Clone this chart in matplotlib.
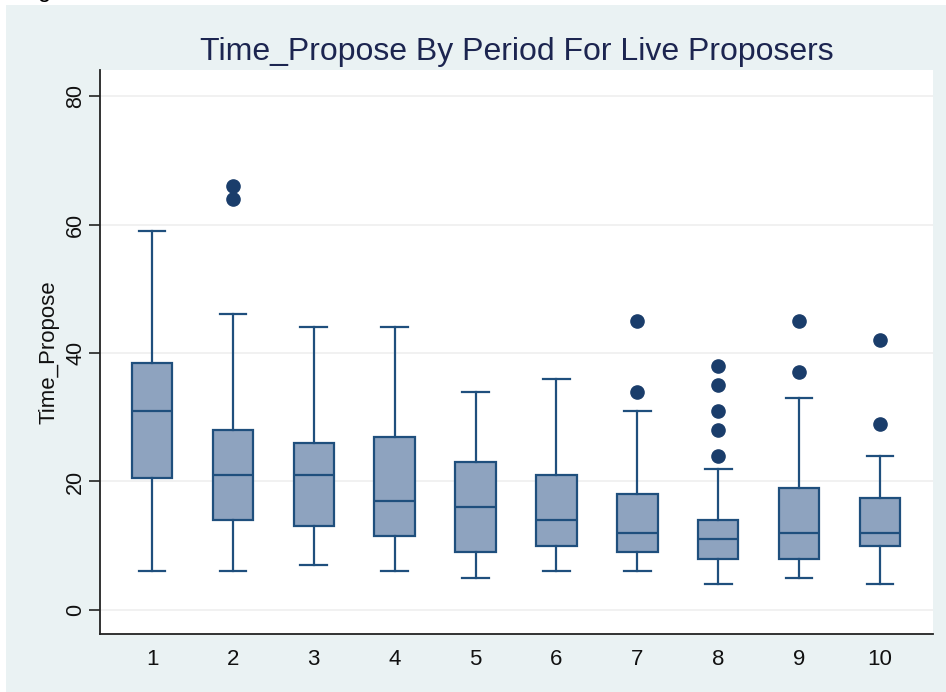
import numpy as np
import matplotlib.pyplot as plt
from matplotlib.patches import Rectangle

plt.rcParams["font.family"] = ["Liberation Sans", "DejaVu Sans"]

# ============================================================
# Box summaries of Time_Propose per period
# ============================================================

periods = [1, 2, 3, 4, 5, 6, 7, 8, 9, 10]
whisker_low = [6, 6, 7, 6, 5, 6, 6, 4, 5, 4]
q1 = [20.5, 14, 13, 11.5, 9, 10, 9, 8, 8, 10]
medians = [31, 21, 21, 17, 16, 14, 12, 11, 12, 12]
q3 = [38.5, 28, 26, 27, 23, 21, 18, 14, 19, 17.5]
whisker_high = [59, 46, 44, 44, 34, 36, 31, 22, 33, 24]
outliers = [[], [64, 66], [], [], [], [], [34, 45],
            [24, 28, 31, 35, 38], [37, 45], [29, 42]]

y_ticks = [0, 20, 40, 60, 80]

stats = []
for i, p in enumerate(periods):
    stats.append({
        "label": str(p),
        "whislo": whisker_low[i],
        "q1": q1[i],
        "med": medians[i],
        "q3": q3[i],
        "whishi": whisker_high[i],
        "fliers": outliers[i],
    })

# ============================================================
# Plot
# ============================================================

W, H = 946, 692
fig = plt.figure(figsize=(W / 100, H / 100), dpi=100, facecolor="white")

# light bluish graph region
fig.patches.append(Rectangle((6 / W, 0), 1 - 6 / W, 1 - 5 / H,
                             transform=fig.transFigure,
                             facecolor="#eaf2f3", edgecolor="none", zorder=-5))
fig.text(38 / W, 1 + 3 / H, "g", fontsize=17, va="baseline", color="black")

ax = fig.add_axes([100 / W, 58 / H, 833 / W, 564 / H])
ax.set_facecolor("white")

navy = "#1f4f7d"
ax.bxp(
    stats,
    positions=periods,
    widths=0.5,
    capwidths=0.33,
    patch_artist=True,
    boxprops=dict(facecolor="#8ea3bf", edgecolor=navy, linewidth=1.6),
    medianprops=dict(color=navy, linewidth=1.6),
    whiskerprops=dict(color=navy, linewidth=1.6),
    capprops=dict(color=navy, linewidth=1.6),
    flierprops=dict(marker="o", markersize=9.5, markerfacecolor="#1a3d6b",
                    markeredgecolor="#1a3d6b", linestyle="none"),
    zorder=3,
)

ax.set_xlim(0.357, 10.655)
ax.set_ylim(-3.74, 84.05)
ax.set_yticks(y_ticks)
ax.grid(axis="y", color="#efefef", linewidth=1.2, zorder=0)

ax.spines["top"].set_visible(False)
ax.spines["right"].set_visible(False)
for s in ["left", "bottom"]:
    ax.spines[s].set_linewidth(1.3)
    ax.spines[s].set_color("#222222")

ax.tick_params(axis="y", length=8, width=1.1, pad=2, labelsize=15.5,
               labelrotation=90, colors="#111111")
ax.tick_params(axis="x", length=0, pad=11, labelsize=16, colors="#111111")
for lbl in ax.get_yticklabels():
    lbl.set_verticalalignment("center")

ax.set_ylabel("Time_Propose", fontsize=16, labelpad=4, color="#111111")
ax.set_title("Time_Propose By Period For Live Proposers", fontsize=23,
             color="#1c2550", pad=7)

fig.savefig("out.png", dpi=100)
